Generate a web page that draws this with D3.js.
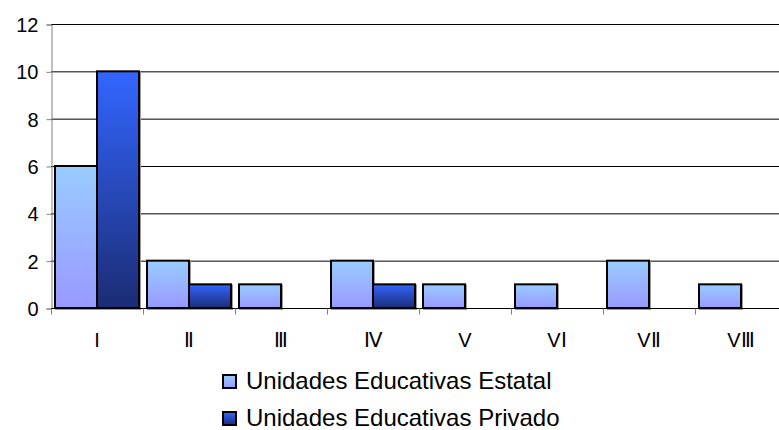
<!DOCTYPE html>
<html>
<head>
<meta charset="utf-8">
<script src="https://cdn.jsdelivr.net/npm/d3@7"></script>
<style>
  body { margin: 0; background: #fff; }
  text { font-family: Arial, "Liberation Sans", sans-serif; fill: #000; }
</style>
</head>
<body>
<svg id="chart" width="779" height="430"></svg>
<script>
let categories = ["I", "Ⅱ", "Ⅲ", "Ⅳ", "V", "VⅠ", "VⅡ", "VⅢ"]
let seriesNames = ["Unidades Educativas Estatal", "Unidades Educativas Privado"]
let estatal = [6, 2, 1, 2, 1, 1, 2, 1]
let privado = [10, 1, 0, 1, 0, 0, 0, 0]
let yTicks = [0, 2, 4, 6, 8, 10, 12]

let svg = d3.select("#chart")

// gradients for the two series
let defs = svg.append("defs")
let grads = [
  { id: "gEst", top: "#99ccff", bottom: "#9999ff" },
  { id: "gPri", top: "#3366ff", bottom: "#1b2c74" }
]
grads.forEach(g => {
  let lg = defs.append("linearGradient").attr("id", g.id)
    .attr("x1", 0).attr("y1", 0).attr("x2", 0).attr("y2", 1)
  lg.append("stop").attr("offset", "0%").attr("stop-color", g.top)
  lg.append("stop").attr("offset", "100%").attr("stop-color", g.bottom)
})

let x = d3.scaleBand().domain(categories).range([51, 787])
let xs = d3.scaleBand().domain(seriesNames).range([4, x.bandwidth() - 4])
let y = d3.scaleLinear().domain([0, 12]).range([308, 24])

// gridlines
svg.append("g").selectAll("line")
  .data(yTicks.filter(d => d > 0))
  .enter().append("line")
    .attr("x1", 51).attr("x2", 779)
    .attr("y1", d => y(d) + 0.5).attr("y2", d => y(d) + 0.5)
    .style("stroke", "#000").style("stroke-width", 1)

// y axis
let yAxis = svg.append("g").attr("transform", "translate(51.5,0.5)")
  .call(d3.axisLeft(y).tickValues(yTicks).tickSize(5).tickPadding(8))
yAxis.select(".domain").attr("stroke", "#808080")
yAxis.selectAll(".tick line").attr("stroke", "#808080")
yAxis.selectAll("text").style("font-size", "20px").attr("dy", "0.35em")

// bars
let rows = categories.map((c, i) => ({ cat: c, values: [estatal[i], privado[i]] }))
let groups = svg.append("g").selectAll("g")
  .data(rows)
  .enter().append("g")
    .attr("transform", d => `translate(${x(d.cat)},0)`)

let bars = groups.selectAll("g")
  .data(d => d.values.map((v, k) => ({ name: seriesNames[k], v: v, k: k })).filter(b => b.v > 0))
  .enter().append("g")

bars.append("rect") // soft shadow
  .attr("x", d => xs(d.name) + 1).attr("y", d => y(d.v) + 1)
  .attr("width", xs.bandwidth()).attr("height", d => y(0) - y(d.v))
  .style("fill", "none").style("stroke", "#9a9a9a").style("stroke-width", 2)

bars.append("rect")
  .attr("x", d => xs(d.name)).attr("y", d => y(d.v))
  .attr("width", xs.bandwidth()).attr("height", d => y(0) - y(d.v))
  .style("fill", d => `url(#${grads[d.k].id})`)
  .style("stroke", "#000").style("stroke-width", 2)

// x axis
let xAxis = svg.append("g").attr("transform", "translate(0,308.5)")
xAxis.append("line").attr("x1", 51).attr("x2", 779).style("stroke", "#000")
xAxis.selectAll("line.tk")
  .data(categories)
  .enter().append("line").attr("class", "tk")
    .attr("x1", d => Math.round(x(d)) + 0.5).attr("x2", d => Math.round(x(d)) + 0.5)
    .attr("y1", 0).attr("y2", 6)
    .style("stroke", "#808080")
xAxis.selectAll("text")
  .data(categories)
  .enter().append("text")
    .attr("x", d => x(d) + x.bandwidth() / 2)
    .attr("y", 38)
    .attr("text-anchor", "middle")
    .style("font-size", "20px")
    .text(d => d)

// legend
let legend = svg.append("g").selectAll("g")
  .data(seriesNames)
  .enter().append("g")
    .attr("transform", (d, i) => `translate(223,${375 + i * 37})`)
legend.append("rect")
  .attr("width", 13).attr("height", 13)
  .style("fill", (d, i) => `url(#${grads[i].id})`)
  .style("stroke", "#000").style("stroke-width", 2)
legend.append("text")
  .attr("x", 23).attr("y", 14)
  .style("font-size", "24px")
  .text(d => d)
</script>
</body>
</html>
